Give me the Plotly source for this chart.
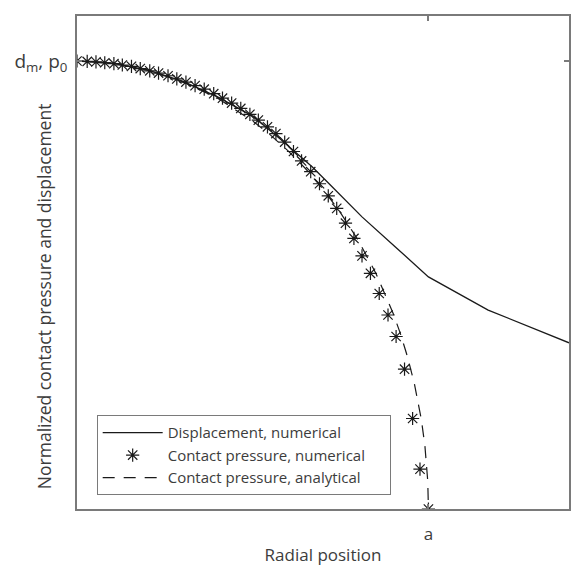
import plotly.graph_objects as go

# Contact pressure, numerical (normalized radius, normalized pressure)
r_num = [0.000, 0.029, 0.054, 0.079, 0.105, 0.129, 0.155, 0.180, 0.207, 0.232,
         0.259, 0.284, 0.310, 0.336, 0.362, 0.389, 0.414, 0.440, 0.466, 0.492,
         0.516, 0.542, 0.566, 0.591, 0.616, 0.639, 0.665, 0.690, 0.715, 0.739,
         0.764, 0.788, 0.811, 0.835, 0.860, 0.885, 0.908, 0.932, 0.955, 0.976, 1.000]
p_num = [1.000, 0.999, 0.998, 0.996, 0.994, 0.991, 0.988, 0.983, 0.978, 0.973,
         0.967, 0.960, 0.953, 0.945, 0.937, 0.927, 0.917, 0.906, 0.894, 0.881,
         0.868, 0.853, 0.838, 0.819, 0.798, 0.777, 0.753, 0.726, 0.699, 0.671,
         0.638, 0.604, 0.565, 0.526, 0.481, 0.433, 0.385, 0.312, 0.202, 0.089, 0.000]

# Contact pressure, analytical
r_ana = [0.0, 0.1, 0.2, 0.3, 0.4, 0.5, 0.55, 0.6, 0.65, 0.7, 0.75, 0.8, 0.85,
         0.9, 0.92, 0.94, 0.96, 0.97, 0.98, 0.99, 0.995, 0.998, 1.0]
p_ana = [1.0, 0.995, 0.980, 0.954, 0.917, 0.866, 0.835, 0.800, 0.760, 0.714,
         0.661, 0.600, 0.527, 0.436, 0.392, 0.341, 0.280, 0.243, 0.199, 0.141,
         0.100, 0.063, 0.0]

# Displacement, numerical
r_disp = [0.0, 0.1, 0.2, 0.3, 0.4, 0.5, 0.575, 0.669, 0.716, 0.811, 0.906,
          1.0, 1.17, 1.4]
d_disp = [1.0, 0.995, 0.980, 0.955, 0.920, 0.877, 0.828, 0.764, 0.727, 0.652,
          0.585, 0.518, 0.444, 0.371]

x_tickvals = [1.0]
x_ticktext = ["a"]
y_tickvals = [1.0]
y_ticktext = ["d<sub>m</sub>, p<sub>0</sub>"]

ink = "#1a1a1a"
axis_grey = "#7a7a7a"
text_grey = "#3c3c3c"
FONT = "Open Sans, Noto Sans, sans-serif"
NB = "\u00a0"

fig = go.Figure()
fig.add_trace(go.Scatter(
    x=r_disp, y=d_disp, mode="lines", name="Displacement, numerical",
    line=dict(color=ink, width=1.3)))
fig.add_trace(go.Scatter(
    x=r_num, y=p_num, mode="markers",
    name="Contact pressure, numerical" + NB * 5,
    marker=dict(symbol="asterisk-open", size=11, color=ink,
                line=dict(color=ink, width=1.2))))
fig.add_trace(go.Scatter(
    x=r_ana, y=p_ana, mode="lines", name="Contact pressure, analytical",
    line=dict(color=ink, width=1.2, dash="12px,9px")))

fig.update_layout(
    width=571, height=567,
    margin=dict(l=77, r=0, t=16, b=58),
    paper_bgcolor="white", plot_bgcolor="white",
    font=dict(family=FONT, color=text_grey, size=16),
    showlegend=True,
    legend=dict(
        x=0.04, y=0.19, xanchor="left", yanchor="top",
        bgcolor="white", bordercolor=axis_grey, borderwidth=1,
        font=dict(family=FONT, size=15, color=text_grey),
        tracegroupgap=0, itemwidth=60,
    ),
    xaxis=dict(
        range=[0, 1.4], showgrid=False, zeroline=False,
        showline=True, linecolor=axis_grey, linewidth=1.5, mirror="ticks",
        ticks="inside", ticklen=5, tickcolor=axis_grey, tickwidth=1.5,
        tickvals=x_tickvals, ticktext=x_ticktext, ticklabelstandoff=9,
        tickfont=dict(size=17, color=text_grey),
        title=dict(text="Radial position", font=dict(size=17, color=text_grey),
                   standoff=5),
    ),
    yaxis=dict(
        range=[0, 1.1004], showgrid=False, zeroline=False,
        showline=True, linecolor=axis_grey, linewidth=1.5, mirror="ticks",
        ticks="inside", ticklen=5, tickcolor=axis_grey, tickwidth=1.5,
        tickvals=y_tickvals, ticktext=y_ticktext, ticklabelstandoff=4,
        tickfont=dict(size=19, color=text_grey),
    ),
    annotations=[dict(
        text="Normalized contact pressure and displacement",
        xref="paper", yref="paper", x=(44 - 77) / 494, y=(509 - 296) / 493,
        xanchor="center", yanchor="middle", textangle=-90, showarrow=False,
        font=dict(family=FONT, size=17.5, color=text_grey),
    )],
)

fig.write_html("out.html")
